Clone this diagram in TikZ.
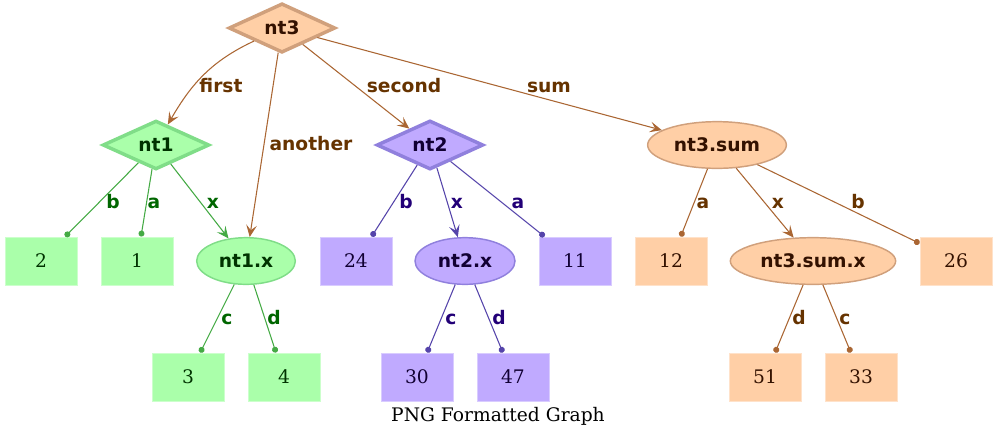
\documentclass[tikz,border=0pt]{standalone}
\usepackage{fontspec}
\setmainfont{DejaVu Serif}
\newfontfamily\labfont{DejaVu Sans}
\usetikzlibrary{shapes.geometric, arrows.meta}
\definecolor{gfill}{HTML}{AAFFAA}
\definecolor{gline}{HTML}{80DD88}
\definecolor{gedge}{HTML}{44AA44}
\definecolor{glab}{HTML}{006600}
\definecolor{gtext}{HTML}{003300}
\definecolor{pfill}{HTML}{C0AAFF}
\definecolor{pline}{HTML}{9080DD}
\definecolor{pedge}{HTML}{5544AA}
\definecolor{plab}{HTML}{220077}
\definecolor{ptext}{HTML}{110033}
\definecolor{ofill}{HTML}{FFCFA6}
\definecolor{oline}{HTML}{D0A07C}
\definecolor{oedge}{HTML}{AA6633}
\definecolor{olab}{HTML}{663300}
\definecolor{otext}{HTML}{331100}
\begin{document}
\begin{tikzpicture}[x=0.75pt, y=-0.75pt,
  bfont/.style={font=\labfont\bfseries\fontsize{14}{16}\selectfont},
  dia/.style={diamond, bfont, line width=2.6pt, minimum width=80pt, minimum height=34.5pt, inner sep=0pt},
  ell/.style={ellipse, bfont, line width=1.1pt, minimum height=35pt, inner sep=0pt},
  leaf/.style={rectangle, font=\fontsize{14}{16}\selectfont, minimum width=54pt, minimum height=36pt, inner sep=0pt, line width=0.7pt},
  lab/.style={bfont, anchor=base, inner sep=0pt},
  arr/.style={-{Stealth[length=9pt,width=8pt,inset=3.8pt]}, line width=0.8pt},
  dotend/.style={-{Circle[length=4.5pt]}, line width=0.8pt},
  gN/.style={fill=gfill, draw=gline, text=gtext},
  pN/.style={fill=pfill, draw=pline, text=ptext},
  oN/.style={fill=ofill, draw=oline, text=otext},
  gL/.style={fill=gfill, draw=gfill!60!white, text=gtext},
  pL/.style={fill=pfill, draw=pfill!60!white, text=ptext},
  oL/.style={fill=ofill, draw=ofill!60!white, text=otext},
  gE/.style={draw=gedge, color=gedge},
  pE/.style={draw=pedge, color=pedge},
  oE/.style={draw=oedge, color=oedge},
]
\useasboundingbox (0,0) rectangle (997,437);

% main nodes
\node[dia, oN] (nt3) at (282,28) {nt3};
\node[dia, gN] (nt1) at (156,145) {nt1};
\node[dia, pN] (nt2) at (430,145) {nt2};
\node[ell, oN, minimum width=104pt] (sum) at (717,145) {nt3.sum};
\node[ell, gN, minimum width=74pt] (nt1x) at (246,261) {nt1.x};
\node[ell, pN, minimum width=75pt] (nt2x) at (465,261) {nt2.x};
\node[ell, oN, minimum width=124pt] (sumx) at (813,261) {nt3.sum.x};

% leaves
\node[leaf, gL] (g2) at (41,261) {2};
\node[leaf, gL] (g1) at (137,261) {1};
\node[leaf, gL] (g3) at (188,377) {3};
\node[leaf, gL] (g4) at (284,377) {4};
\node[leaf, pL] (p24) at (356,261) {24};
\node[leaf, pL] (p11) at (575,261) {11};
\node[leaf, pL] (p30) at (417,377) {30};
\node[leaf, pL] (p47) at (513,377) {47};
\node[leaf, oL] (o12) at (671,261) {12};
\node[leaf, oL] (o26) at (956,261) {26};
\node[leaf, oL] (o51) at (765,377) {51};
\node[leaf, oL] (o33) at (861,377) {33};

% edges from nt3
\draw[arr, oE] (nt3) to[out=205, in=60] (nt1);
\draw[arr, oE] (nt3) -- (nt1x);
\draw[arr, oE] (nt3) -- (nt2);
\draw[arr, oE] (nt3) -- (sum);
\node[lab, text=olab] (lfirst) at (221,92) {first};
\node[lab, text=olab] (lanother) at (311,150) {another};
\node[lab, text=olab] (lsecond) at (404,92) {second};
\node[lab, text=olab] (lsum) at (549,92) {sum};

% nt1
\draw[dotend, gE] (nt1) -- (g2);
\draw[dotend, gE] (nt1) -- (g1);
\draw[arr, gE] (nt1) -- (nt1x);
\node[lab, text=glab] (l1b) at (113,208) {b};
\node[lab, text=glab] (l1a) at (154,208) {a};
\node[lab, text=glab] (l1x) at (213,208) {x};
\draw[dotend, gE] (nt1x) -- (g3);
\draw[dotend, gE] (nt1x) -- (g4);
\node[lab, text=glab] (l1c) at (227,324) {c};
\node[lab, text=glab] (l1d) at (274,324) {d};

% nt2
\draw[dotend, pE] (nt2) -- (p24);
\draw[arr, pE] (nt2) -- (nt2x);
\draw[dotend, pE] (nt2) -- (p11);
\node[lab, text=plab] (l2b) at (406,208) {b};
\node[lab, text=plab] (l2x) at (457,208) {x};
\node[lab, text=plab] (l2a) at (518,208) {a};
\draw[dotend, pE] (nt2x) -- (p30);
\draw[dotend, pE] (nt2x) -- (p47);
\node[lab, text=plab] (l2c) at (451,324) {c};
\node[lab, text=plab] (l2d) at (499,324) {d};

% nt3.sum
\draw[dotend, oE] (sum) -- (o12);
\draw[arr, oE] (sum) -- (sumx);
\draw[dotend, oE] (sum) -- (o26);
\node[lab, text=olab] (l3a) at (703,208) {a};
\node[lab, text=olab] (l3x) at (778,208) {x};
\node[lab, text=olab] (l3b) at (858,208) {b};
\draw[dotend, oE] (sumx) -- (o51);
\draw[dotend, oE] (sumx) -- (o33);
\node[lab, text=olab] (l3d) at (799,324) {d};
\node[lab, text=olab] (l3c) at (845,324) {c};

% caption
\node[font=\fontsize{14}{16}\selectfont, anchor=base, inner sep=0pt] (cap) at (498,421) {PNG Formatted Graph};
\end{tikzpicture}
\end{document}
